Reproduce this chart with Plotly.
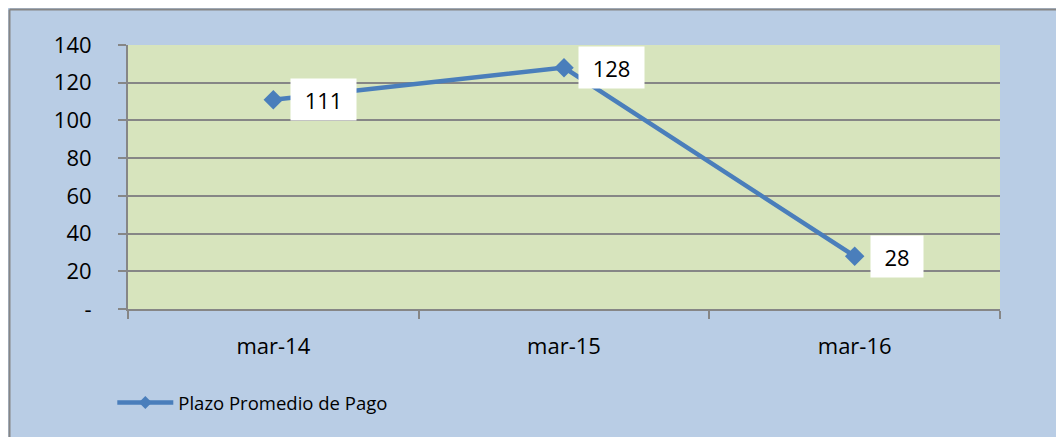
import plotly.graph_objects as go

# datos
periodos = ["mar-14", "mar-15", "mar-16"]
plazo_pago = [111, 128, 28]
y_ticks = [0, 20, 40, 60, 80, 100, 120, 140]
y_ticktext = ["-", "20", "40", "60", "80", "100", "120", "140"]
serie = "Plazo Promedio de Pago"

AZUL_FONDO = "#B9CDE5"
VERDE_PLOT = "#D7E4BD"
AZUL_LINEA = "#4A7EBB"
GRIS = "#868686"
FUENTE = "Open Sans"

# la página tiene 8px de margen en el body
W, H = 1056, 429
L, T, R, B = 120, 37, 64, 128
PW, PH = W - L - R, H - T - B

fig = go.Figure()
fig.add_trace(go.Scatter(
    x=periodos, y=plazo_pago, name=serie, mode="lines+markers",
    line=dict(color=AZUL_LINEA, width=4.5),
    marker=dict(symbol="diamond", size=15, color=AZUL_LINEA),
    showlegend=False,
))
# solo para la leyenda (marcador más pequeño, como en Excel)
fig.add_trace(go.Scatter(
    x=[None], y=[None], name=serie, mode="lines+markers",
    line=dict(color=AZUL_LINEA, width=4.5),
    marker=dict(symbol="diamond", size=10, color=AZUL_LINEA),
))

# etiquetas de datos en cajas blancas
anchos = [63, 63, 50]
desplaz = [50, 47, 42]
for x, y, w, dx in zip(periodos, plazo_pago, anchos, desplaz):
    fig.add_annotation(
        x=x, y=y, text=str(y), showarrow=False, xshift=dx,
        bgcolor="white", width=w, height=39,
        font=dict(family=FUENTE, size=22, color="black"),
    )

# borde gris arriba/izquierda del área del gráfico
bx = (1.5 - L) / PW
by = (PH + T - 1.5) / PH
fig.add_shape(type="line", xref="paper", yref="paper", x0=bx, x1=1.2,
              y0=by, y1=by, line=dict(color=GRIS, width=2))
fig.add_shape(type="line", xref="paper", yref="paper", x0=bx, x1=bx,
              y0=by, y1=-0.6, line=dict(color=GRIS, width=2))

fig.update_layout(
    width=W, height=H,
    margin=dict(l=L, r=R, t=T, b=B, autoexpand=False),
    paper_bgcolor=AZUL_FONDO, plot_bgcolor=VERDE_PLOT,
    font=dict(family=FUENTE, color="black"),
    showlegend=True,
    legend=dict(x=-0.018, y=(301 - 395) / PH, xanchor="left", yanchor="middle",
                bgcolor="rgba(0,0,0,0)", font=dict(size=18.5, family=FUENTE),
                itemwidth=56),
)
fig.update_xaxes(
    type="category", range=[-0.5, 2.5], automargin=False,
    showgrid=False, showline=True, linecolor=GRIS, linewidth=2,
    ticks="outside", tickson="boundaries", ticklen=8, tickcolor=GRIS, tickwidth=2,
    tickfont=dict(size=22, family=FUENTE), ticklabelstandoff=17,
)
fig.update_yaxes(
    range=[0, 140], tickvals=y_ticks, ticktext=y_ticktext, automargin=False,
    showgrid=True, gridcolor=GRIS, gridwidth=2,
    showline=True, linecolor=GRIS, linewidth=2,
    ticks="outside", ticklen=8, tickcolor=GRIS, tickwidth=2,
    tickfont=dict(size=22, family=FUENTE), ticklabelstandoff=22, zeroline=False,
)

fig.write_html("out.html")
